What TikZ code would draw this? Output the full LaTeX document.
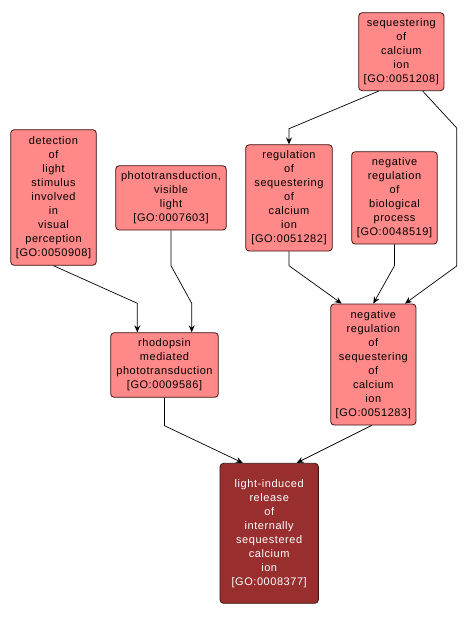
\documentclass[tikz,border=0pt]{standalone}
\usepackage{fontspec}
\setmainfont{Liberation Sans}
\usetikzlibrary{arrows.meta}
\definecolor{termpink}{RGB}{255,137,137}
\definecolor{termdark}{RGB}{153,46,46}
\definecolor{termline}{RGB}{60,20,20}
\begin{document}
\begin{tikzpicture}[x=1pt,y=-1pt,
  term/.style={draw=termline,line width=0.8pt,rounded corners=3.5pt,fill=termpink,align=center,inner sep=1pt,
    font={\addfontfeature{LetterSpace=5}\fontsize{11}{14}\selectfont}},
  arr/.style={-{Stealth[length=7pt,width=6pt,inset=2.5pt]},line width=0.7pt,black}]
\useasboundingbox[fill=white] (0,0) rectangle (467,617);
% terms
\node[term,minimum width=85.3pt,minimum height=78pt] (seqca) at (401.3,51.7) {sequestering\\of\\calcium\\ion\\{[GO:0051208]}};
\node[term,minimum width=85.6pt,minimum height=135.6pt] (detect) at (53.5,197.5) {detection\\of\\light\\stimulus\\involved\\in\\visual\\perception\\{[GO:0050908]}};
\node[term,minimum width=110.6pt,minimum height=64.3pt] (photo) at (171,197.9) {phototransduction,\\visible\\light\\{[GO:0007603]}};
\node[term,minimum width=86.6pt,minimum height=106.3pt] (regseq) at (289,197.9) {regulation\\of\\sequestering\\of\\calcium\\ion\\{[GO:0051282]}};
\node[term,minimum width=85.6pt,minimum height=92.3pt] (negbio) at (394.5,197.9) {negative\\regulation\\of\\biological\\process\\{[GO:0048519]}};
\node[term,minimum width=107.6pt,minimum height=64.6pt] (rhodo) at (164.5,365) {rhodopsin\\mediated\\phototransduction\\{[GO:0009586]}};
\node[term,minimum width=85.3pt,minimum height=121pt] (negseq) at (373.3,364.5) {negative\\regulation\\of\\sequestering\\of\\calcium\\ion\\{[GO:0051283]}};
\node[term,fill=termdark,text=white,minimum width=98.3pt,minimum height=140pt] (lightrel) at (269.2,533.3) {light-induced\\release\\of\\internally\\sequestered\\calcium\\ion\\{[GO:0008377]}};
% is_a links
\draw[arr] ([xshift=-22.6pt]seqca.south) -- (289,128.7) -- (regseq.north);
\draw[arr] ([xshift=21.4pt]seqca.south) -- (456.7,128) -- (456.7,266) -- ([xshift=31.7pt]negseq.north);
\draw[arr] (regseq.south) -- (289,265.7) -- ([xshift=-31.6pt]negseq.north);
\draw[arr] (negbio.south) -- (394.5,265.7) -- (negseq.north);
\draw[arr] (detect.south) -- (137.3,303.3) -- ([xshift=-27.2pt]rhodo.north);
\draw[arr] (photo.south) -- (171,265.7) -- (191.7,303.3) -- ([xshift=27.2pt]rhodo.north);
\draw[arr] (rhodo.south) -- (164.5,425.7) -- ([xshift=-26.5pt]lightrel.north);
\draw[arr] ([xshift=-1.6pt]negseq.south) -- ([xshift=27.5pt]lightrel.north);
\end{tikzpicture}
\end{document}
